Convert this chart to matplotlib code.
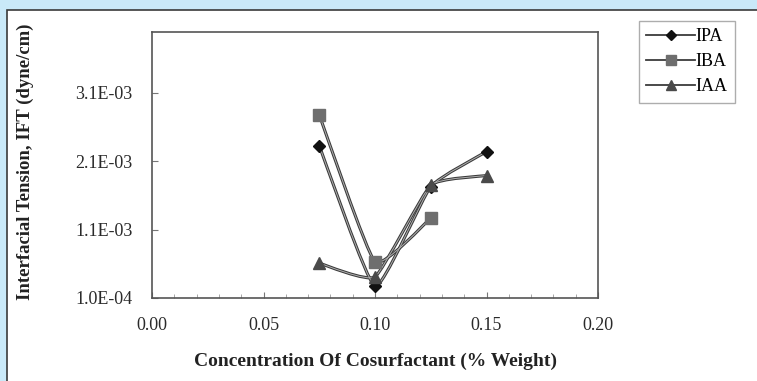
import matplotlib
matplotlib.use('Agg')
import matplotlib.pyplot as plt
from matplotlib.path import Path
from matplotlib.patches import PathPatch, Rectangle
from matplotlib.ticker import MultipleLocator, FixedLocator
import numpy as np

conc = [0.075, 0.100, 0.125, 0.150]
ipa = [2.33e-3, 0.27e-3, 1.73e-3, 2.24e-3]
iba = [2.78e-3, 0.63e-3, 1.27e-3]
iaa = [0.61e-3, 0.41e-3, 1.75e-3, 1.89e-3]
names = ['IPA', 'IBA', 'IAA']
y_ticks = [1.0e-4, 1.1e-3, 2.1e-3, 3.1e-3]
y_tick_labels = ['1.0E-04', '1.1E-03', '2.1E-03', '3.1E-03']
x_ticks = [0.00, 0.05, 0.10, 0.15, 0.20]

serif = ['Liberation Serif', 'DejaVu Serif']


def smooth_path(ax, x, y, k_s=1 / 14.0):
    # lightly smoothed line, bezier through the points
    pts = ax.transData.transform(np.column_stack([x, y]))
    n = len(pts)
    verts = [pts[0]]
    codes = [Path.MOVETO]
    for k in range(n - 1):
        p0 = pts[k - 1] if k > 0 else pts[k]
        p1 = pts[k]
        p2 = pts[k + 1]
        p3 = pts[k + 2] if k + 2 < n else pts[k + 1]
        c1 = p1 + (p2 - p0) * k_s
        c2 = p2 - (p3 - p1) * k_s
        verts += [c1, c2, p2]
        codes += [Path.CURVE4] * 3
    return Path(verts, codes)


fig = plt.figure(figsize=(7.57, 3.81), dpi=100)
fig.patch.set_facecolor('#c9e9f8')
panel = Rectangle((7 / 757, -0.05), 1.0, (381 - 10) / 381 + 0.05,
                  transform=fig.transFigure, facecolor='white',
                  edgecolor='#3a3a3a', lw=1.2, zorder=-5)
fig.add_artist(panel)

ax = fig.add_axes([152 / 757, 83 / 381, 446 / 757, 266 / 381])
ax.set_zorder(2)
ax.set_xlim(0.0, 0.2)
ax.set_ylim(1.0e-4, 3.99e-3)

styles = [('D', '#111111', 6.5), ('s', '#6e6e6e', 8.5), ('^', '#4a4a4a', 8)]
series = [ipa, iba, iaa]
for vals, name, (mk, mc, ms) in zip(series, names, styles):
    xs = conc[:len(vals)]
    ax.plot(xs, vals, marker=mk, markersize=ms, markerfacecolor=mc,
            markeredgecolor=mc, linestyle='none', zorder=3, label=name)

fig.canvas.draw()
for vals in series:
    p = smooth_path(ax, conc[:len(vals)], vals)
    ax.add_artist(PathPatch(p, transform=None, fill=False, edgecolor='#3a3a3a', lw=2.2, zorder=2))
    ax.add_artist(PathPatch(p, transform=None, fill=False, edgecolor='#b0b0b0', lw=0.7, zorder=2.1))

ax.xaxis.set_major_locator(FixedLocator(x_ticks))
ax.xaxis.set_minor_locator(MultipleLocator(0.01))
ax.set_xticklabels(['%.2f' % v for v in x_ticks], family=serif, fontsize=13, color='#2a2a2a')
ax.yaxis.set_major_locator(FixedLocator(y_ticks))
ax.set_yticklabels(y_tick_labels, family=serif, fontsize=13, color='#2a2a2a')
ax.tick_params(axis='both', which='major', direction='in', length=4, color='#777777')
ax.tick_params(axis='x', which='major', pad=14)
ax.tick_params(axis='x', which='minor', direction='in', length=3, color='#999999')
ax.tick_params(axis='y', pad=14)
for s in ax.spines.values():
    s.set_color('#555555')
    s.set_linewidth(1.2)

ax.set_xlabel('Concentration Of Cosurfactant (% Weight)', family=serif, fontsize=14,
              fontweight='bold', color='#222222', labelpad=13)
fig.text(25 / 757, 1 - 162 / 381, 'Interfacial Tension, IFT (dyne/cm)', family=serif,
         fontsize=13.5, fontweight='bold', color='#222222', rotation=90,
         ha='center', va='center')

leg_handles = []
for name, (mk, mc, ms) in zip(names, styles):
    lh, = ax.plot([], [], color='#3c3c3c', lw=1.3, marker=mk, markersize=ms * 0.85,
                  markerfacecolor=mc, markeredgecolor=mc, label=name)
    leg_handles.append(lh)
leg = fig.legend(handles=leg_handles, loc='upper left',
                 bbox_to_anchor=(639 / 757, 1 - 21 / 381), frameon=True, fancybox=False,
                 prop={'family': serif, 'size': 13}, handlelength=2.7, handletextpad=0.05,
                 borderpad=0.4, labelspacing=0.45, borderaxespad=0)
leg.get_frame().set_edgecolor('#999999')
leg.get_frame().set_linewidth(1.0)

fig.savefig('out.png', dpi=100, facecolor=fig.get_facecolor())
